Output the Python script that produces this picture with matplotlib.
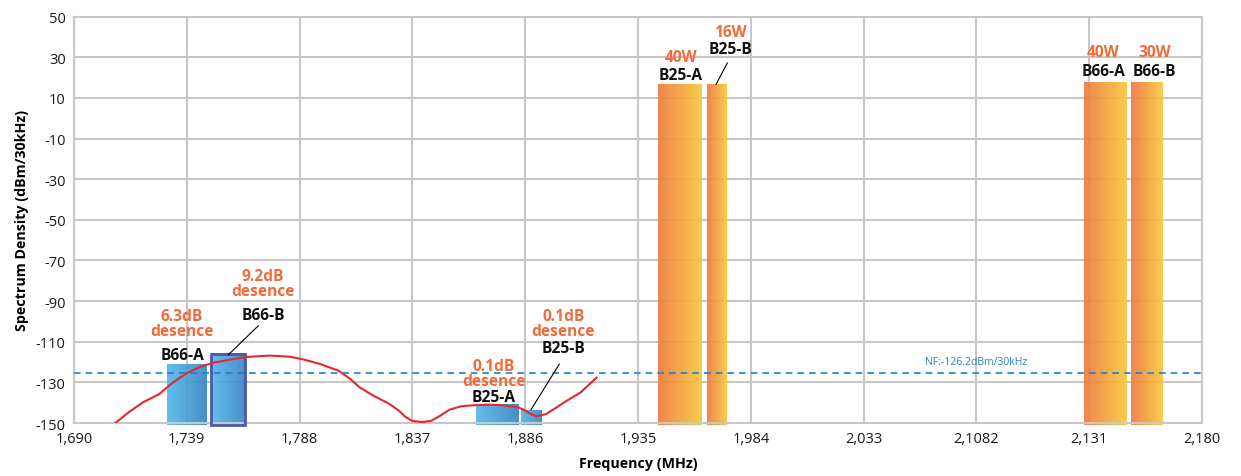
import matplotlib
matplotlib.use('Agg')
import matplotlib.pyplot as plt
import numpy as np
from matplotlib.colors import LinearSegmentedColormap
from matplotlib.patches import Rectangle

plt.rcParams['font.family'] = ['Open Sans', 'DejaVu Sans']
plt.rcParams['axes.unicode_minus'] = False

# x ticks (the original axis carries the "2,1082" typo)
x_ticks = [1690, 1739, 1788, 1837, 1886, 1935, 1984, 2033, 2082, 2131, 2180]
x_tick_labels = ['1,690', '1,739', '1,788', '1,837', '1,886', '1,935', '1,984',
                 '2,033', '2,1082', '2,131', '2,180']
y_ticks = [50, 30, 10, -10, -30, -50, -70, -90, -110, -130, -150]

# receive bands (blue) - left edge, right edge, top level
rx_names = ['B66-A', 'B66-B', 'B25-A', 'B25-B']
rx_left = [1730.3, 1749.4, 1864.6, 1884.2]
rx_right = [1747.6, 1764.3, 1882.9, 1893.0]
rx_top = [-121, -116, -141, -144]

# transmit carriers (orange)
tx_names = ['B25-A', 'B25-B', 'B66-A', 'B66-B']
tx_power = ['40W', '16W', '40W', '30W']
tx_left = [1943.8, 1965.1, 2128.7, 2149.2]
tx_right = [1962.9, 1973.7, 2147.3, 2162.7]
tx_top = [16.4, 16.4, 17.4, 17.4]

# PIM curve
pim_freq = [1708, 1714, 1720, 1727, 1733, 1739, 1745, 1751, 1758, 1765, 1775, 1784,
            1790, 1797, 1805, 1810, 1814, 1820, 1827, 1831, 1834, 1837, 1841, 1845, 1849,
            1853, 1858, 1863, 1870, 1876, 1883, 1886, 1888, 1891, 1895, 1899, 1903, 1910, 1917]
pim_level = [-150, -144.5, -139.8, -135.8, -130, -125.5, -122.3, -120.2, -118.8, -117.5,
             -116.8, -117.4, -118.8, -121, -124.3, -128.3, -132.4, -136.5, -140.6,
             -143.8, -147, -149, -149.5, -149, -146.5, -143.5, -141.8, -141.3, -141, -141.2,
             -142.3, -143.8, -145.3, -146.7, -145.6, -142.8, -139.8, -135, -127.7]

noise_floor = -125.5

orange = '#f26b3a'
blue_cmap = LinearSegmentedColormap.from_list('b', ['#55b9e8', '#3985c6'])
orange_cmap = LinearSegmentedColormap.from_list('o', ['#ee7b3f', '#f9c83c'])
grad = np.linspace(0, 1, 256).reshape(1, -1)

fig = plt.figure(figsize=(12.41, 4.77), dpi=100)
ax = fig.add_axes([0.0596, 0.1111, 0.9090, 0.8518])

bottom = -151
for l, r, t in zip(rx_left, rx_right, rx_top):
    ax.imshow(grad, cmap=blue_cmap, extent=(l, r, bottom, t), aspect='auto',
              alpha=0.92, zorder=2, clip_on=False)
for l, r, t in zip(tx_left, tx_right, tx_top):
    ax.imshow(grad, cmap=orange_cmap, extent=(l, r, bottom, t), aspect='auto',
              alpha=0.92, zorder=2, clip_on=False)

# outline on the worst-hit band
ax.add_patch(Rectangle((rx_left[1], bottom), rx_right[1] - rx_left[1], rx_top[1] - bottom,
                       fill=False, edgecolor='#4a5aa8', linewidth=2, zorder=3, clip_on=False))

ax.plot(pim_freq, pim_level, color='#e8262c', linewidth=1.5, zorder=4)

ax.axhline(noise_floor, color='#1f7fd0', linestyle=(0, (4, 3)), linewidth=1.2, zorder=4)
ax.text(2081.8, -119.9, 'NF:-126.2dBm/30kHz', color='#2f7fc0', fontsize=7.5,
        ha='center', va='center', zorder=5)

ax.set_xlim(1690, 2180)
ax.set_ylim(-150, 50)
ax.set_xticks(x_ticks)
ax.set_xticklabels(x_tick_labels)
ax.set_yticks(y_ticks)
ax.set_yticklabels([str(v) for v in y_ticks])
ax.tick_params(length=0, labelsize=10.5, colors='#1a1a1a', pad=6)
ax.grid(True, color='#c8c8c8', linewidth=1.5)
ax.set_axisbelow(True)
for s in ax.spines.values():
    s.set_color('#c8c8c8')
    s.set_linewidth(1.5)

ax.set_xlabel('Frequency (MHz)', fontsize=10.3, fontweight='bold', labelpad=7)
ax.set_ylabel('Spectrum Density (dBm/30kHz)', fontsize=10.3, fontweight='bold', labelpad=5)

lbl = dict(fontsize=11.2, fontweight='bold', ha='center', va='center', zorder=6,
           linespacing=0.95)

# receive band labels
ax.text(1737.0, -100.9, '6.3dB\ndesence', color=orange, **lbl)
ax.text(1737.0, -116.5, 'B66-A', color='#111111', **lbl)
ax.text(1772.2, -81.3, '9.2dB\ndesence', color=orange, **lbl)
ax.text(1772.2, -96.7, 'B66-B', color='#111111', **lbl)
ax.text(1872.4, -125.6, '0.1dB\ndesence', color=orange, **lbl)
ax.text(1872.4, -137.3, 'B25-A', color='#111111', **lbl)
ax.text(1902.6, -100.9, '0.1dB\ndesence', color=orange, **lbl)
ax.text(1902.6, -113.2, 'B25-B', color='#111111', **lbl)

# transmit labels
ax.text(1953.6, 30.0, tx_power[0], color=orange, **lbl)
ax.text(1953.6, 21.3, tx_names[0], color='#111111', **lbl)
ax.text(1975.0, 42.3, tx_power[1], color=orange, **lbl)
ax.text(1975.0, 34.1, tx_names[1], color='#111111', **lbl)
ax.text(2137.1, 32.5, tx_power[2], color=orange, **lbl)
ax.text(2137.1, 23.4, tx_names[2], color='#111111', **lbl)
ax.text(2159.3, 32.5, tx_power[3], color=orange, **lbl)
ax.text(2159.3, 23.4, tx_names[3], color='#111111', **lbl)

# leader lines
ax.plot([1770.1, 1757.0], [-102.1, -116.5], color='black', linewidth=0.8, zorder=6)
ax.plot([1900.8, 1888.5], [-121.0, -143.5], color='black', linewidth=0.8, zorder=6)
ax.plot([1973.8, 1968.9], [27.2, 16.7], color='black', linewidth=0.8, zorder=6)

fig.savefig('out.png', dpi=100)
